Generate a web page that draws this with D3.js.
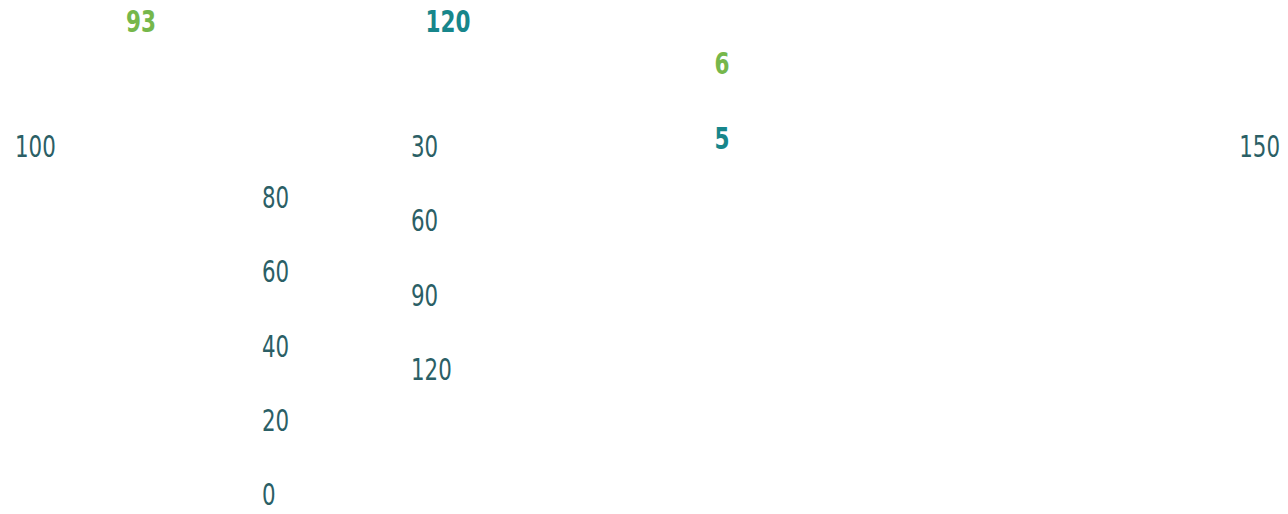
<!DOCTYPE html>
<html>
<head>
<meta charset="utf-8">
<script src="https://cdn.jsdelivr.net/npm/d3@7"></script>
<style>
  body { margin: 0; background: #fff; }
  svg text { font-family: "DejaVu Sans Condensed", "DejaVu Sans", sans-serif; }
</style>
</head>
<body>
<div id="chart"></div>
<script>
// left axis ticks
const leftTicks = [0, 20, 40, 60, 80];
// right (inverted) axis ticks
const rightTicks = [30, 60, 90, 120];
// headline values
const headValues = [
  {label: "93", colour: "green", col: 0, row: 0},
  {label: "120", colour: "teal", col: 1, row: 0},
  {label: "6", colour: "green", col: 2, row: 1},
  {label: "5", colour: "teal", col: 2, row: 2}
];
// range ends
const rangeMin = 100;
const rangeMax = 150;

const W = 1288, H = 514;
const axisCol = "#2b5f66";
const palette = {green: "#76b74b", teal: "#17868b"};
const fz = 30;
// the original face is narrow, squeeze the glyphs a bit
const narrow = 13.6, narrowBold = 15;

const svg = d3.select("#chart").append("svg")
  .attr("width", W).attr("height", H);

const yLeft = d3.scaleLinear().domain([0, 80]).range([505, 208]);
const yRight = d3.scaleLinear().domain([30, 120]).range([157, 380]);

function num(sel, w) {
  sel.attr("textLength", d => String(d).length * w)
     .attr("lengthAdjust", "spacingAndGlyphs");
  return sel;
}

svg.append("g").selectAll("text")
  .data(leftTicks).join("text")
  .attr("x", 262)
  .attr("y", d => yLeft(d))
  .attr("fill", axisCol)
  .style("font-size", fz + "px")
  .text(d => d)
  .call(num, narrow);

svg.append("g").selectAll("text")
  .data(rightTicks).join("text")
  .attr("x", 411)
  .attr("y", d => yRight(d))
  .attr("fill", axisCol)
  .style("font-size", fz + "px")
  .text(d => d)
  .call(num, narrow);

// range ends
svg.append("g").selectAll("text")
  .data([rangeMin, rangeMax]).join("text")
  .attr("x", (d, i) => i ? 1280 : 15)
  .attr("y", 157)
  .attr("text-anchor", (d, i) => i ? "end" : "start")
  .attr("fill", axisCol)
  .style("font-size", fz + "px")
  .text(d => d)
  .call(num, narrow);

// headline numbers
const colX = [141, 448, 722];
const rowY = [32, 74, 149];
svg.append("g").selectAll("text")
  .data(headValues).join("text")
  .attr("x", d => colX[d.col])
  .attr("y", d => rowY[d.row])
  .attr("text-anchor", "middle")
  .attr("fill", d => palette[d.colour])
  .style("font-size", fz + "px")
  .style("font-weight", "bold")
  .text(d => d.label)
  .attr("textLength", d => d.label.length * narrowBold)
  .attr("lengthAdjust", "spacingAndGlyphs");
</script>
</body>
</html>
